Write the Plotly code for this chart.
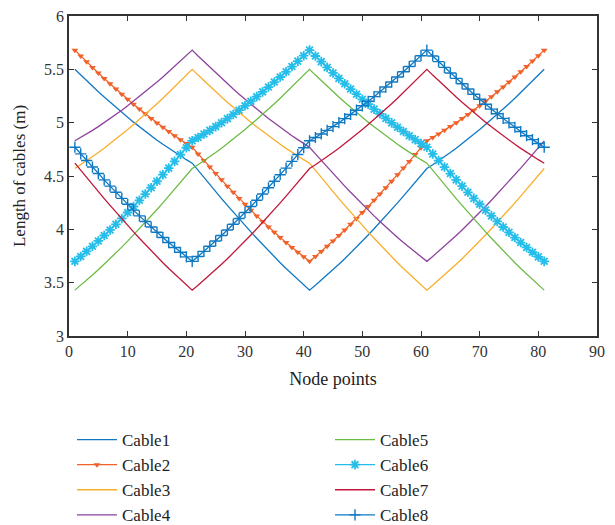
import plotly.graph_objects as go

nodes = list(range(1, 82))

cable1 = [5.500,5.446,5.393,5.342,5.290,5.240,5.191,5.143,5.096,5.050,5.005,4.961,4.918,4.876,4.836,4.797,4.759,4.722,4.687,4.653,4.620,
          4.552,4.485,4.419,4.353,4.288,4.224,4.160,4.098,4.036,3.976,3.916,3.857,3.799,3.743,3.687,3.633,3.580,3.529,3.479,3.430,
          3.475,3.522,3.571,3.621,3.672,3.724,3.778,3.833,3.889,3.947,4.005,4.064,4.124,4.186,4.248,4.311,4.374,4.439,4.504,4.570,
          4.606,4.642,4.681,4.720,4.761,4.803,4.846,4.890,4.935,4.982,5.029,5.078,5.127,5.178,5.229,5.282,5.335,5.389,5.444,5.500]

cable2 = [5.680,5.625,5.572,5.518,5.466,5.415,5.365,5.315,5.267,5.219,5.173,5.127,5.083,5.040,4.998,4.957,4.917,4.878,4.841,4.805,4.770,
          4.707,4.645,4.584,4.523,4.464,4.405,4.347,4.290,4.235,4.180,4.126,4.074,4.022,3.972,3.923,3.876,3.830,3.785,3.742,3.700,
          3.746,3.793,3.841,3.891,3.942,3.994,4.047,4.102,4.158,4.214,4.272,4.331,4.390,4.451,4.512,4.574,4.637,4.701,4.765,4.830,
          4.861,4.894,4.928,4.963,5.000,5.038,5.077,5.117,5.158,5.201,5.244,5.289,5.334,5.381,5.428,5.477,5.526,5.577,5.628,5.680]

cable3 = [4.570,4.606,4.642,4.681,4.720,4.761,4.803,4.846,4.890,4.935,4.982,5.029,5.078,5.127,5.178,5.229,5.282,5.335,5.389,5.444,5.500,
          5.446,5.393,5.342,5.290,5.240,5.191,5.143,5.096,5.050,5.005,4.961,4.918,4.876,4.836,4.797,4.759,4.722,4.687,4.653,4.620,
          4.552,4.485,4.419,4.353,4.288,4.224,4.160,4.098,4.036,3.976,3.916,3.857,3.799,3.743,3.687,3.633,3.580,3.529,3.479,3.430,
          3.475,3.522,3.571,3.621,3.672,3.724,3.778,3.833,3.889,3.947,4.005,4.064,4.124,4.186,4.248,4.311,4.374,4.439,4.504,4.570]

cable4 = [4.830,4.861,4.894,4.928,4.963,5.000,5.038,5.077,5.117,5.158,5.201,5.244,5.289,5.334,5.381,5.428,5.477,5.526,5.577,5.628,5.680,
          5.625,5.572,5.518,5.466,5.415,5.365,5.315,5.267,5.219,5.173,5.127,5.083,5.040,4.998,4.957,4.917,4.878,4.841,4.805,4.770,
          4.707,4.645,4.584,4.523,4.464,4.405,4.347,4.290,4.235,4.180,4.126,4.074,4.022,3.972,3.923,3.876,3.830,3.785,3.742,3.700,
          3.746,3.793,3.841,3.891,3.942,3.994,4.047,4.102,4.158,4.214,4.272,4.331,4.390,4.451,4.512,4.574,4.637,4.701,4.765,4.830]

cable5 = [3.430,3.475,3.522,3.571,3.621,3.672,3.724,3.778,3.833,3.889,3.947,4.005,4.064,4.124,4.186,4.248,4.311,4.374,4.439,4.504,4.570,
          4.606,4.642,4.681,4.720,4.761,4.803,4.846,4.890,4.935,4.982,5.029,5.078,5.127,5.178,5.229,5.282,5.335,5.389,5.444,5.500,
          5.446,5.393,5.342,5.290,5.240,5.191,5.143,5.096,5.050,5.005,4.961,4.918,4.876,4.836,4.797,4.759,4.722,4.687,4.653,4.620,
          4.552,4.485,4.419,4.353,4.288,4.224,4.160,4.098,4.036,3.976,3.916,3.857,3.799,3.743,3.687,3.633,3.580,3.529,3.479,3.430]

cable6 = [3.700,3.746,3.793,3.841,3.891,3.942,3.994,4.047,4.102,4.158,4.214,4.272,4.331,4.390,4.451,4.512,4.574,4.637,4.701,4.765,4.830,
          4.861,4.894,4.928,4.963,5.000,5.038,5.077,5.117,5.158,5.201,5.244,5.289,5.334,5.381,5.428,5.477,5.526,5.577,5.628,5.680,
          5.625,5.572,5.518,5.466,5.415,5.365,5.315,5.267,5.219,5.173,5.127,5.083,5.040,4.998,4.957,4.917,4.878,4.841,4.805,4.770,
          4.707,4.645,4.584,4.523,4.464,4.405,4.347,4.290,4.235,4.180,4.126,4.074,4.022,3.972,3.923,3.876,3.830,3.785,3.742,3.700]

cable7 = [4.620,4.552,4.485,4.419,4.353,4.288,4.224,4.160,4.098,4.036,3.976,3.916,3.857,3.799,3.743,3.687,3.633,3.580,3.529,3.479,3.430,
          3.475,3.522,3.571,3.621,3.672,3.724,3.778,3.833,3.889,3.947,4.005,4.064,4.124,4.186,4.248,4.311,4.374,4.439,4.504,4.570,
          4.606,4.642,4.681,4.720,4.761,4.803,4.846,4.890,4.935,4.982,5.029,5.078,5.127,5.178,5.229,5.282,5.335,5.389,5.444,5.500,
          5.446,5.393,5.342,5.290,5.240,5.191,5.143,5.096,5.050,5.005,4.961,4.918,4.876,4.836,4.797,4.759,4.722,4.687,4.653,4.620]

cable8 = [4.770,4.707,4.645,4.584,4.523,4.464,4.405,4.347,4.290,4.235,4.180,4.126,4.074,4.022,3.972,3.923,3.876,3.830,3.785,3.742,3.700,
          3.746,3.793,3.841,3.891,3.942,3.994,4.047,4.102,4.158,4.214,4.272,4.331,4.390,4.451,4.512,4.574,4.637,4.701,4.765,4.830,
          4.861,4.894,4.928,4.963,5.000,5.038,5.077,5.117,5.158,5.201,5.244,5.289,5.334,5.381,5.428,5.477,5.526,5.577,5.628,5.680,
          5.625,5.572,5.518,5.466,5.415,5.365,5.315,5.267,5.219,5.173,5.127,5.083,5.040,4.998,4.957,4.917,4.878,4.841,4.805,4.770]

names = ["Cable1", "Cable2", "Cable3", "Cable4", "Cable5", "Cable6", "Cable7", "Cable8"]
series = [cable1, cable2, cable3, cable4, cable5, cable6, cable7, cable8]
colors = ["#0f78c2", "#f0622a", "#f9ae2a", "#8c429c", "#6cbb45", "#25bde9", "#c1173a", "#0f78c2"]

FONT = "Liberation Serif"

fig = go.Figure()
for i, (nm, ys, col) in enumerate(zip(names, series, colors)):
    legend = "legend" if i < 4 else "legend2"
    if nm == "Cable2":
        fig.add_trace(go.Scatter(x=nodes, y=ys, name=nm, mode="lines+markers", legend=legend,
                                 line=dict(color=col, width=1.3),
                                 marker=dict(symbol="triangle-down", size=6, color=col)))
    elif nm == "Cable6":
        fig.add_trace(go.Scatter(x=nodes, y=ys, name=nm, mode="lines+markers", legend=legend,
                                 line=dict(color=col, width=1.3),
                                 marker=dict(symbol="asterisk-open", size=8, color=col,
                                             line=dict(color=col, width=1.8))))
    elif nm == "Cable8":
        fig.add_trace(go.Scatter(x=nodes, y=ys, name=nm, mode="lines+markers", legend=legend,
                                 line=dict(color=col, width=1.3),
                                 marker=dict(symbol="cross-thin-open", size=8, color=col,
                                             line=dict(color=col, width=1.4))))
    else:
        fig.add_trace(go.Scatter(x=nodes, y=ys, name=nm, mode="lines", legend=legend,
                                 line=dict(color=col, width=1.3)))

axis_common = dict(showline=True, linecolor="#333333", linewidth=1.5, mirror="ticks",
                   ticks="inside", ticklen=5, tickwidth=1, tickcolor="#333333",
                   showgrid=False, zeroline=False,
                   tickfont=dict(family=FONT, size=16, color="#333333"))

L, R, T, B = 69, 18, 16, 189
PW, PH = 615 - L - R, 525 - T - B

legend_common = dict(xanchor="left", yanchor="top",
                     orientation="v", font=dict(family=FONT, size=17, color="#222222"),
                     bgcolor="rgba(0,0,0,0)", itemwidth=40, tracegroupgap=0)

fig.update_layout(
    width=615, height=525,
    margin=dict(l=L, r=R, t=T, b=B, autoexpand=False),
    paper_bgcolor="white", plot_bgcolor="white",
    font=dict(family=FONT, size=16, color="#222222"),
    xaxis=dict(range=[0, 90], dtick=10, title=dict(text="Node points", standoff=13,
               font=dict(family=FONT, size=18, color="#222222")), **axis_common),
    yaxis=dict(range=[3, 6], dtick=0.5, title=dict(text="Length of cables (m)", standoff=14,
               font=dict(family=FONT, size=17, color="#222222")), **axis_common),
    legend=dict(x=(72 - L) / PW, y=(T + PH - 422) / PH, **legend_common),
    legend2=dict(x=(330 - L) / PW, y=(T + PH - 422) / PH, **legend_common),
    showlegend=True,
)

fig.write_html("out.html", config={"displayModeBar": False},
               post_script="document.body.style.margin='0';")
